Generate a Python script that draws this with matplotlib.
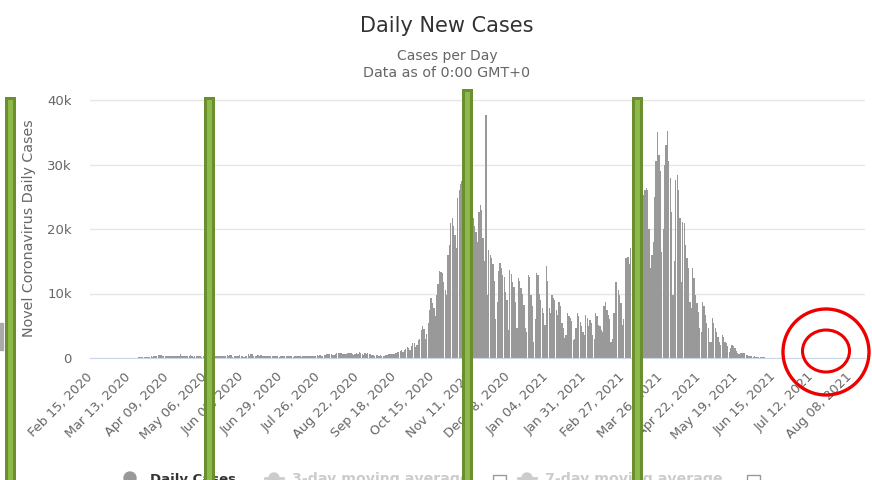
import matplotlib
matplotlib.use("Agg")
import matplotlib.pyplot as plt
from matplotlib.patches import Rectangle, Ellipse
import numpy as np

W, H = 872, 480

# x axis categories: one per day from Feb 15, 2020, labelled every 27 days
n_days = 551
tick_labels = ["Feb 15, 2020", "Mar 13, 2020", "Apr 09, 2020", "May 06, 2020",
               "Jun 02, 2020", "Jun 29, 2020", "Jul 26, 2020", "Aug 22, 2020",
               "Sep 18, 2020", "Oct 15, 2020", "Nov 11, 2020", "Dec 08, 2020",
               "Jan 04, 2021", "Jan 31, 2021", "Feb 27, 2021", "Mar 26, 2021",
               "Apr 22, 2021", "May 19, 2021", "Jun 15, 2021", "Jul 12, 2021",
               "Aug 08, 2021"]

# daily new cases (nothing reported after early June 2021)
daily_cases = [
    0, 0, 0, 0, 0, 0, 0,
    0, 0, 0, 0, 0, 0, 0,
    0, 0, 0, 0, 1, 0, 0,
    0, 0, 5, 6, 9, 5, 17,
    19, 39, 27, 27, 47, 70, 101,
    111, 104, 98, 115, 152, 150, 170, 224,
    249, 193, 256, 244, 243, 392, 437,
    475, 311, 268, 374, 357, 370, 380,
    318, 285, 260, 270, 380, 336, 363,
    545, 263, 306, 313, 381, 276, 338,
    460, 316, 211, 287, 329, 304, 300,
    303, 195, 275, 284, 307, 307, 395,
    330, 595, 353, 278, 284, 339, 380,
    275, 288, 240, 264, 356, 417, 315,
    453, 395, 202, 379, 387, 332, 366,
    416, 350, 292, 230, 301, 293, 576, 361,
    599, 575, 375, 359, 282, 440, 314,
    407, 300, 303, 309, 263, 352, 375,
    356, 311, 301, 245, 297, 305, 193,
    300, 376, 253, 237, 371, 317, 248,
    299, 267, 193, 262, 290, 358, 299,
    295, 213, 293, 299, 299, 335, 343,
    304, 334, 286, 337, 356, 418, 373,
    443, 368, 337, 396, 512, 615, 657,
    658, 680, 502, 476, 680, 726, 809,
    843, 720, 599, 548, 597, 640, 811, 832,
    820, 551, 514, 587, 733, 661, 903,
    700, 560, 520, 700, 650, 720, 640,
    600, 480, 450, 380, 420, 400, 380,
    420, 350, 300, 280, 400, 520, 560,
    620, 680, 560, 640, 750, 900, 1000,
    1100, 1300, 900, 1200, 1350, 1700, 1500,
    1300, 1900, 2300, 2300, 1700, 2000, 2800,
    3000, 4300, 5000, 4500, 3000, 3700, 5500,
    7500, 9300, 8600, 7800, 6500, 9800, 11500,
    13500, 13300, 13200, 11800, 10500, 9800, 16000, 17500,
    21000, 21700, 20500, 19000, 17000, 24800, 26000,
    27000, 27500, 25000, 22000, 18000, 16000, 21000,
    24000, 25000, 21700, 20500, 19500, 18000, 22700,
    23700, 23000, 18600, 15000, 37600, 9800, 16700,
    16000, 15500, 14500, 12000, 6000, 8700, 13500,
    14700, 14000, 12900, 12500, 10300, 9000, 4300,
    13600, 13000, 11800, 11000, 8700, 4600, 12400,
    12000, 10800, 10000, 8200, 4600, 4000, 12900,
    12500, 9800, 8000, 2500, 6000, 13200, 12800,
    10000, 9000, 7700, 7000, 5100, 14200, 12000, 7700,
    7000, 9800, 9300, 9000, 7500, 6700, 8700,
    8000, 5500, 4600, 3100, 3500, 6900, 6500,
    6200, 5800, 2800, 3000, 4600, 6900, 6500,
    5600, 5000, 4000, 3500, 6700, 6200, 5000,
    5900, 5500, 3600, 3000, 6900, 6500, 5100,
    5000, 4300, 4000, 8000, 8700, 7500, 6700,
    6000, 2500, 3000, 7000, 11800, 11800, 10500,
    9800, 8500, 5100, 6000, 15500, 15500, 15700,
    14500, 17000, 14000, 21000, 25000, 27000, 29000,
    26000, 24000, 22000, 25300, 26000, 26300, 26000, 20000,
    13900, 16000, 18000, 25000, 30500, 35100, 31500,
    29000, 16500, 20000, 30000, 33000, 35200, 30500,
    27900, 22700, 9800, 15000, 27600, 28400, 26000,
    21700, 11800, 21100, 21000, 17500, 15500, 13900,
    8700, 7700, 13900, 12400, 9800, 8500, 7200,
    4600, 4000, 8700, 8000, 6700, 5500, 4600,
    2500, 2500, 6200, 5500, 4600, 4000, 3300,
    2500, 2000, 3600, 3300, 2500, 2300, 1800,
    1000, 1500, 2000, 1800, 1600, 1100, 700,
    600, 700, 800, 800, 700, 500, 400, 350,
    300, 250, 200, 250, 200, 150, 200,
    150, 100, 100, 80,
]

y_ticks = [0, 10000, 20000, 30000, 40000]
y_tick_labels = ["0", "10k", "20k", "30k", "40k"]

legend_labels = ["Daily Cases", "3-day moving average", "7-day moving average"]

fig = plt.figure(figsize=(W / 100, H / 100), dpi=100)

# plot area: x 90..865 px, y=0 at 358 px, 40k at 100 px
y_top = 41000
ax_h = 258 * y_top / 40000
ax = fig.add_axes([90 / W, 122 / H, 775 / W, ax_h / H])

x = np.arange(len(daily_cases))
ax.bar(x, daily_cases, width=0.9, color="#999999", linewidth=0, zorder=2)

ax.set_xlim(-0.5, n_days - 0.5)
ax.set_ylim(0, y_top)
ax.set_yticks(y_ticks)
ax.set_yticklabels(y_tick_labels)
ax.grid(axis="y", color="#e6e6e6", lw=1, zorder=0)
ax.set_axisbelow(True)
for s in ["top", "right", "left"]:
    ax.spines[s].set_visible(False)
ax.spines["bottom"].set_color("#ccd6eb")
ax.spines["bottom"].set_zorder(3)

ax.set_xticks(range(0, n_days, 27))
ax.set_xticklabels(tick_labels, rotation=45, ha="right", va="center",
                   rotation_mode="anchor")
ax.tick_params(axis="x", length=0, pad=12, labelsize=9.3, labelcolor="#666666")
ax.tick_params(axis="y", length=0, pad=13, labelsize=9.5, labelcolor="#666666")

# titles
fig.text(447 / W, 1 - 26 / H, "Daily New Cases", ha="center", va="center",
         fontsize=15, color="#333333")
fig.text(447 / W, 1 - 56 / H, "Cases per Day", ha="center", va="center",
         fontsize=10, color="#666666")
fig.text(447 / W, 1 - 73 / H, "Data as of 0:00 GMT+0", ha="center", va="center",
         fontsize=10.3, color="#666666")
fig.text(29 / W, 1 - 228 / H, "Novel Coronavirus Daily Cases", rotation=90,
         ha="center", va="center", fontsize=10.3, color="#666666")

# legend row, cut off at the bottom edge as in the screenshot
ly = 1 - 478 / H
fig.add_artist(Ellipse((130 / W, ly), 12 / W, 12 / H, transform=fig.transFigure,
                       color="#999999"))
fig.text(150 / W, 1 - 483 / H, legend_labels[0], fontsize=9.5,
         fontweight="bold", color="#333333", va="baseline")
for lab, x0, tx, cb in [(legend_labels[1], 265, 292, 493),
                        (legend_labels[2], 518, 545, 747)]:
    fig.add_artist(plt.Line2D([x0 / W, (x0 + 18) / W], [ly, ly],
                              transform=fig.transFigure, color="#cccccc", lw=2))
    fig.add_artist(Ellipse(((x0 + 9) / W, ly), 10 / W, 10 / H,
                           transform=fig.transFigure, color="#cccccc"))
    fig.text(tx / W, 1 - 483 / H, lab, fontsize=10.2, fontweight="bold",
             color="#cccccc", va="baseline")
    fig.add_artist(Rectangle((cb / W, 1 - 488 / H), 13 / W, 13 / H,
                             transform=fig.transFigure, fill=False,
                             edgecolor="#999999", lw=1))

# small grey element at the left edge
fig.add_artist(Rectangle((0, 1 - 350 / H), 3 / W, 27 / H,
                         transform=fig.transFigure, color="#aaaaaa"))

# green markers drawn over the chart
for gx, gtop in [(5, 97), (204, 97), (462, 89), (632, 97)]:
    fig.add_artist(Rectangle((gx / W, 0), 11 / W, (H - gtop) / H,
                             transform=fig.transFigure, facecolor="#6b8e2f",
                             edgecolor="none", zorder=5))
    fig.add_artist(Rectangle(((gx + 3) / W, 0), 5 / W, (H - gtop - 3) / H,
                             transform=fig.transFigure, facecolor="#8db84a",
                             edgecolor="none", zorder=6))

# red circles
fig.add_artist(Ellipse((826 / W, 1 - 352 / H), 86 / W, 86 / H,
                       transform=fig.transFigure, fill=False,
                       edgecolor="#ee0000", lw=2.4, zorder=7))
fig.add_artist(Ellipse((826 / W, 1 - 351 / H), 47 / W, 42 / H,
                       transform=fig.transFigure, fill=False,
                       edgecolor="#ee0000", lw=2.2, zorder=7))

fig.savefig("out.png", dpi=100)
